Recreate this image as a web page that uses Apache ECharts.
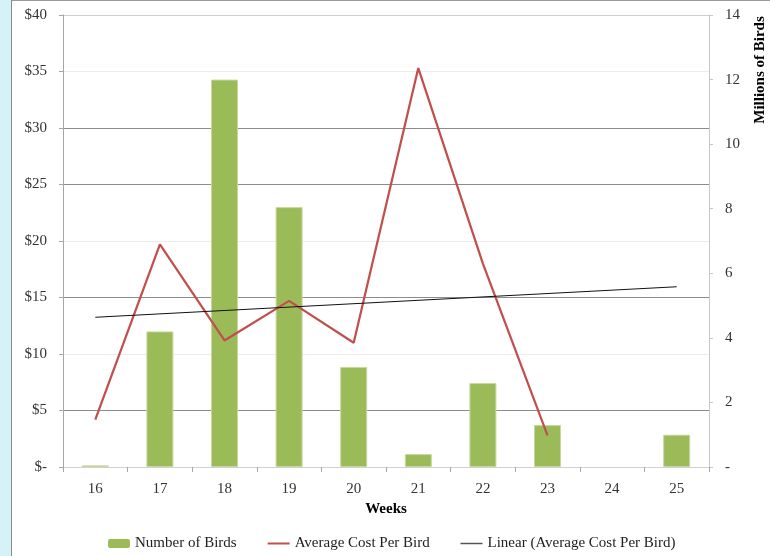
<!DOCTYPE html>
<html>
<head>
<meta charset="utf-8">
<script src="https://cdn.jsdelivr.net/npm/echarts@6/dist/echarts.min.js"></script>
<style>
html,body{margin:0;padding:0;background:#fff;}
#main{position:absolute;left:0;top:0;width:770px;height:556px;}
#strip{position:absolute;left:0;top:0;width:11px;height:556px;background:#d5f3f7;border-right:1px solid #7f8d97;}
#topline{position:absolute;left:12px;top:0;width:758px;height:1px;background:#9a9a9a;}
</style>
</head>
<body>
<div id="main"></div>
<div id="strip"></div>
<div id="topline"></div>
<script>
var weeks = ['16','17','18','19','20','21','22','23','24','25'];
var birds = [0.05, 4.2, 12.0, 8.05, 3.1, 0.4, 2.6, 1.3, null, 1.0];
var avgCost = [4.2, 19.7, 11.2, 14.7, 11.0, 35.3, 18.0, 2.8, null, null];
var trendCost = [13.25, null, null, null, null, null, null, null, null, 15.95];
var costTicks = [0, 40, 5];
var birdTicks = [0, 14, 2];

var font = 'Liberation Serif';
var dom = document.getElementById('main');
var myChart = echarts.init(dom);

// the reference's grid lines print light / dark unevenly, keep that
var gridCols = ['#d9d9d9','#8c8c8c','#ececec','#8c8c8c','#ececec','#8c8c8c','#8c8c8c','#ececec','#cfcfcf'];

var option = {
	animation: false,
	backgroundColor: '#fff',
	grid: { left: 63, right: 61, top: 15, bottom: 89 },
	legend: {
		left: 103,
		top: 531,
		itemWidth: 22,
		itemHeight: 9,
		itemGap: 30,
		textStyle: { fontFamily: font, fontSize: 15, color: '#222' },
		data: [
			{ name: 'Number of Birds', itemStyle: { borderWidth: 0 } },
			{ name: 'Average Cost Per Bird', itemStyle: { opacity: 0 }, lineStyle: { width: 2 } },
			{ name: 'Linear (Average Cost Per Bird)', itemStyle: { opacity: 0 }, lineStyle: { width: 1.5, color: '#555' } }
		]
	},
	xAxis: {
		type: 'category',
		data: weeks,
		name: 'Weeks',
		nameLocation: 'middle',
		nameGap: 33,
		nameTextStyle: { fontFamily: font, fontSize: 15, fontWeight: 'bold', color: '#000' },
		axisLine: { lineStyle: { color: '#d0d0d0' } },
		axisTick: { show: true, length: 5, lineStyle: { color: '#a6a6a6' } },
		axisLabel: { margin: 15, fontFamily: font, fontSize: 15, color: '#333' }
	},
	yAxis: [{
		type: 'value',
		min: costTicks[0], max: costTicks[1], interval: costTicks[2],
		axisLine: { show: true, lineStyle: { color: '#a6a6a6' } },
		axisTick: { show: true, length: 4, lineStyle: { color: '#a6a6a6' } },
		axisLabel: {
			margin: 16, fontFamily: font, fontSize: 15, color: '#333',
			formatter: function (v) { return v == 0 ? '$-' : '$' + v; }
		},
		splitLine: { show: true, lineStyle: { color: gridCols, width: 1 } }
	}, {
		type: 'value',
		position: 'right',
		min: birdTicks[0], max: birdTicks[1], interval: birdTicks[2],
		axisLine: { show: true, lineStyle: { color: '#c8c8c8' } },
		axisTick: { show: true, length: 4, lineStyle: { color: '#c8c8c8' } },
		axisLabel: {
			margin: 16, fontFamily: font, fontSize: 15, color: '#333',
			formatter: function (v) { return v == 0 ? '-' : v; }
		},
		splitLine: { show: false }
	}],
	graphic: [{
		type: 'text',
		x: 760, y: 70,
		rotation: Math.PI / 2,
		style: {
			text: 'Millions of Birds',
			font: 'bold 15px Liberation Serif',
			fill: '#000',
			align: 'center', verticalAlign: 'middle',
			textAlign: 'center', textVerticalAlign: 'middle'
		}
	}],
	series: [{
		name: 'Number of Birds',
		type: 'bar',
		yAxisIndex: 1,
		barWidth: 27,
		itemStyle: { color: '#9bbb59', borderColor: '#c5d99e', borderWidth: 1 },
		data: birds
	}, {
		name: 'Average Cost Per Bird',
		type: 'line',
		yAxisIndex: 0,
		symbol: 'none',
		lineStyle: { color: '#c0504d', width: 2.25 },
		itemStyle: { color: '#c0504d' },
		data: avgCost
	}, {
		name: 'Linear (Average Cost Per Bird)',
		type: 'line',
		yAxisIndex: 0,
		symbol: 'none',
		connectNulls: true,
		lineStyle: { color: '#111', width: 1 },
		itemStyle: { color: '#111' },
		data: trendCost
	}]
};
if (option && typeof option === "object") {
	myChart.setOption(option, true);
}
</script>
</body>
</html>
